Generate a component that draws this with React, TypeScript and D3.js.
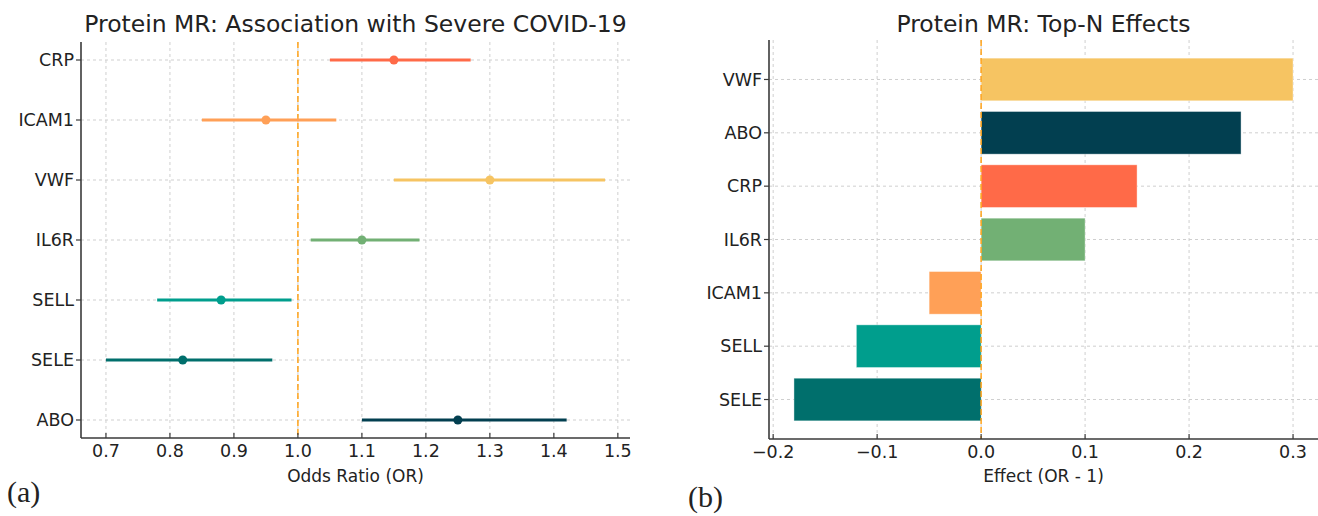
import * as d3 from 'd3';

// forest plot (a): top to bottom
const forestProteins = ['CRP', 'ICAM1', 'VWF', 'IL6R', 'SELL', 'SELE', 'ABO'];
const forestOR = [1.15, 0.95, 1.3, 1.1, 0.88, 0.82, 1.25];
const forestLow = [1.05, 0.85, 1.15, 1.02, 0.78, 0.7, 1.1];
const forestHigh = [1.27, 1.06, 1.48, 1.19, 0.99, 0.96, 1.42];
const orTicks = [0.7, 0.8, 0.9, 1.0, 1.1, 1.2, 1.3, 1.4, 1.5];

// bar plot (b): sorted by effect, top to bottom
const barProteins = ['VWF', 'ABO', 'CRP', 'IL6R', 'ICAM1', 'SELL', 'SELE'];
const barEffects = [0.3, 0.25, 0.15, 0.1, -0.05, -0.12, -0.18];
const effectTicks = [-0.2, -0.1, 0.0, 0.1, 0.2, 0.3];

const proteinColors: Record<string, string> = {
  CRP: '#ff6a48',
  ICAM1: '#ffa057',
  VWF: '#f6c462',
  IL6R: '#72b074',
  SELL: '#009e8d',
  SELE: '#006f6c',
  ABO: '#023f50',
};

const FONT = '"DejaVu Sans", sans-serif';
const GRID = '#cfcfcf';
const SPINE = '#3a3a3a';
const REF = '#ffa31a';
const TICK_SIZE = 17.5;

function ForestPanel() {
  const left = 81;
  const right = 630;
  const top = 42;
  const bottom = 438;
  const x = d3.scaleLinear().domain([0.661, 1.519]).range([left, right]);
  const y = d3.scaleLinear().domain([-0.3, forestProteins.length - 1 + 0.3]).range([top, bottom]);

  return (
    <g>
      <text x={(left + right) / 2} y={32} textAnchor="middle" fontFamily={FONT} fontSize={23.5} fill="#222">
        Protein MR: Association with Severe COVID-19
      </text>
      {orTicks.map((t) => (
        <line key={`gx${t}`} x1={x(t)} x2={x(t)} y1={top} y2={bottom} stroke={GRID} strokeDasharray="3,3" />
      ))}
      {forestProteins.map((p, i) => (
        <line key={`gy${p}`} x1={left} x2={right} y1={y(i)} y2={y(i)} stroke={GRID} strokeDasharray="3,3" />
      ))}
      <line x1={x(1)} x2={x(1)} y1={top} y2={bottom} stroke={REF} strokeWidth={1.5} strokeDasharray="6,3" />
      {forestProteins.map((p, i) => (
        <g key={p}>
          <line
            x1={x(forestLow[i])}
            x2={x(forestHigh[i])}
            y1={y(i)}
            y2={y(i)}
            stroke={proteinColors[p]}
            strokeWidth={3}
          />
          <circle cx={x(forestOR[i])} cy={y(i)} r={4.5} fill={proteinColors[p]} />
          <line x1={left - 5} x2={left} y1={y(i)} y2={y(i)} stroke={SPINE} strokeWidth={1.2} />
          <text x={left - 7} y={y(i)} dy="0.36em" textAnchor="end" fontFamily={FONT} fontSize={TICK_SIZE} fill="#222">
            {p}
          </text>
        </g>
      ))}
      {orTicks.map((t) => (
        <g key={`tx${t}`}>
          <line x1={x(t)} x2={x(t)} y1={bottom - 5} y2={bottom} stroke={SPINE} strokeWidth={1.2} />
          <text x={x(t)} y={457} textAnchor="middle" fontFamily={FONT} fontSize={TICK_SIZE} fill="#222">
            {d3.format('.1f')(t)}
          </text>
        </g>
      ))}
      <line x1={left} x2={left} y1={top} y2={bottom} stroke={SPINE} strokeWidth={1.6} />
      <line x1={left} x2={right} y1={bottom} y2={bottom} stroke={SPINE} strokeWidth={1.6} />
      <text x={(left + right) / 2} y={482} textAnchor="middle" fontFamily={FONT} fontSize={17} fill="#222">
        Odds Ratio (OR)
      </text>
      <text x={7} y={502} fontFamily='"Liberation Serif", "DejaVu Serif", serif' fontSize={30} fill="#222">
        (a)
      </text>
    </g>
  );
}

function BarPanel() {
  const left = 769;
  const right = 1318;
  const top = 40;
  const bottom = 439;
  const x = d3.scaleLinear().domain([-0.204, 0.324]).range([left, right]);
  const y = d3.scaleLinear().domain([-0.74, barProteins.length - 1 + 0.74]).range([top, bottom]);
  const band = y(0.4) - y(-0.4);

  return (
    <g>
      <text x={(left + right) / 2} y={32} textAnchor="middle" fontFamily={FONT} fontSize={23.5} fill="#222">
        Protein MR: Top-N Effects
      </text>
      {effectTicks.map((t) => (
        <line key={`gx${t}`} x1={x(t)} x2={x(t)} y1={top} y2={bottom} stroke={GRID} strokeDasharray="3,3" />
      ))}
      {barProteins.map((p, i) => (
        <line key={`gy${p}`} x1={left} x2={right} y1={y(i)} y2={y(i)} stroke={GRID} strokeDasharray="3,3" />
      ))}
      {barProteins.map((p, i) => (
        <rect
          key={`b${p}`}
          x={Math.min(x(0), x(barEffects[i]))}
          y={y(i) - band / 2}
          width={Math.abs(x(barEffects[i]) - x(0))}
          height={band}
          fill={proteinColors[p]}
          stroke="#ffffff"
          strokeOpacity={0.5}
          strokeWidth={0.8}
        />
      ))}
      <line x1={x(0)} x2={x(0)} y1={top} y2={bottom} stroke={REF} strokeWidth={1.5} strokeDasharray="6,3" />
      {barProteins.map((p, i) => (
        <g key={p}>
          <line x1={left - 5} x2={left} y1={y(i)} y2={y(i)} stroke={SPINE} strokeWidth={1.2} />
          <text x={left - 7} y={y(i)} dy="0.36em" textAnchor="end" fontFamily={FONT} fontSize={TICK_SIZE} fill="#222">
            {p}
          </text>
        </g>
      ))}
      {effectTicks.map((t) => (
        <g key={`tx${t}`}>
          <line x1={x(t)} x2={x(t)} y1={bottom - 5} y2={bottom} stroke={SPINE} strokeWidth={1.2} />
          <text x={x(t)} y={458} textAnchor="middle" fontFamily={FONT} fontSize={TICK_SIZE} fill="#222">
            {d3.format('.1f')(t)}
          </text>
        </g>
      ))}
      <line x1={left} x2={left} y1={top} y2={bottom} stroke={SPINE} strokeWidth={1.6} />
      <line x1={left} x2={right} y1={bottom} y2={bottom} stroke={SPINE} strokeWidth={1.6} />
      <text x={(left + right) / 2} y={482} textAnchor="middle" fontFamily={FONT} fontSize={17} fill="#222">
        Effect (OR - 1)
      </text>
      <text x={688} y={507} fontFamily='"Liberation Serif", "DejaVu Serif", serif' fontSize={30} fill="#222">
        (b)
      </text>
    </g>
  );
}

export default function App() {
  return (
    <svg
      width={1318}
      height={516}
      viewBox="0 0 1318 516"
      style={{ position: 'absolute', left: 0, top: 0, background: '#fff' }}
    >
      <ForestPanel />
      <BarPanel />
    </svg>
  );
}
